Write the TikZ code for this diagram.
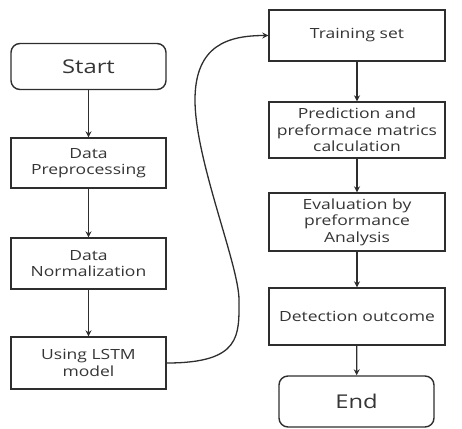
\documentclass[tikz,border=0pt]{standalone}
\usepackage{fontspec}
\setmainfont{Open Sans}[FakeStretch=1.25]
\usetikzlibrary{arrows.meta}
\definecolor{lineclr}{HTML}{2E2E2E}
\definecolor{txtclr}{HTML}{353535}
\begin{document}
\begin{tikzpicture}[x=1pt,y=1pt,
		box/.style={draw=lineclr,line width=1.4pt,text=txtclr,align=center,inner sep=0pt,font=\fontsize{14}{16.5}\selectfont},
		lbox/.style={box,minimum width=155pt},
		rbox/.style={box,minimum width=176pt},
		term/.style={box,rounded corners=9pt,minimum width=155pt,minimum height=46pt,font=\fontsize{19}{21}\selectfont},
		flow/.style={draw=lineclr,line width=1.3pt,-{Stealth[length=6pt,width=6pt]}}]
		\useasboundingbox (0,0) rectangle (462,-428);
		% left column
		\node[term] (start) at (88.5,-66.5) {Start};
		\node[lbox,minimum height=50pt] (prep) at (88.5,-163) {Data\\Preprocessing};
		\node[lbox,minimum height=51pt] (norm) at (88.5,-263.5) {Data\\Normalization};
		\node[lbox,minimum height=52pt] (lstm) at (88.5,-363) {Using LSTM\\model};
		% right column
		\node[rbox,minimum height=51pt] (train) at (357,-35.5) {Training set};
		\node[rbox,minimum height=56pt] (pred) at (357,-130) {Prediction and\\preformace matrics\\calculation};
		\node[rbox,minimum height=58pt] (eval) at (357,-222) {Evaluation by\\preformance\\Analysis};
		\node[rbox,minimum height=57pt] (detect) at (357,-316.5) {Detection outcome};
		\node[term,minimum height=51pt] (end) at (356.5,-401.5) {End};
		% connectors
		\draw[flow] (start) -- (prep);
		\draw[flow] (prep) -- (norm);
		\draw[flow] (norm) -- (lstm);
		\draw[flow] (lstm.east) .. controls +(75,0) and +(0,-35) .. (239,-300)
			.. controls +(0,35) and +(0,-60) .. (195,-100)
			.. controls +(0,55) and +(-40,0) .. (train.west);
		\draw[flow] (train) -- (pred);
		\draw[flow] (pred) -- (eval);
		\draw[flow] (eval) -- (detect);
		\draw[flow] (detect) -- (end);
	\end{tikzpicture}
\end{document}
